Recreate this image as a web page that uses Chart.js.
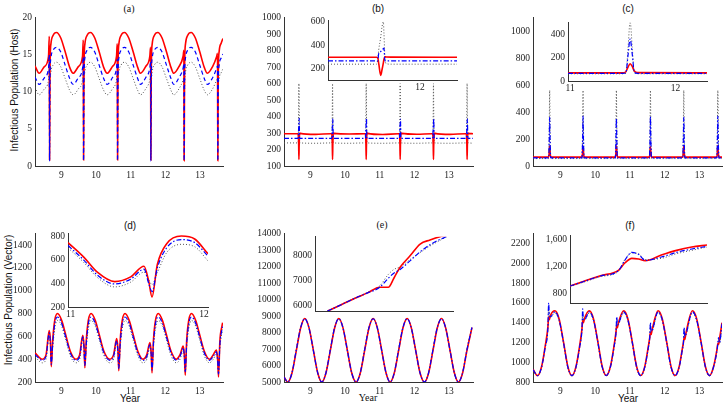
<!DOCTYPE html>
<html>
<head>
<meta charset="utf-8">
<script src="https://cdn.jsdelivr.net/npm/chart.js@4.4.1/dist/chart.umd.min.js"></script>
<style>
body{margin:0;background:#fff;}
#wrap{position:relative;width:727px;height:406px;overflow:hidden;background:#fff;}
canvas{position:absolute;}
.t{position:absolute;font-size:10px;color:#111;white-space:nowrap;transform:translate(-50%,-50%);}
.sans{font-family:"Liberation Sans",Arial,sans-serif;}
.serif{font-family:"Liberation Serif","Times New Roman",serif;}
.rot{transform:translate(-50%,-50%) rotate(-90deg);}
</style>
</head>
<body>
<div id="wrap">
  <div class="t serif" style="left:129px;top:8px">(a)</div>
  <div class="t sans" style="left:378px;top:8px">(b)</div>
  <div class="t sans" style="left:628px;top:8px">(c)</div>
  <div class="t sans" style="left:130px;top:225px">(d)</div>
  <div class="t serif" style="left:382px;top:224px">(e)</div>
  <div class="t sans" style="left:630px;top:225px">(f)</div>
  <div class="t sans rot" style="left:14px;top:90px">Infectious Population (Host)</div>
  <div class="t sans rot" style="left:8px;top:300px">Infectious Population (Vector)</div>
  <div class="t sans" style="left:130px;top:398px">Year</div>
  <div class="t serif" style="left:368px;top:397px">Year</div>
  <div class="t sans" style="left:628px;top:398px">Year</div>
</div>
<script>
// tick labels
const yearTicks = [9, 10, 11, 12, 13];
const aYTicks = [0, 5, 10, 15, 20];
const bYTicks = [100, 200, 300, 400, 500, 600, 700, 800, 900, 1000];
const cYTicks = [0, 200, 400, 600, 800, 1000];
const dYTicks = [200, 400, 600, 800, 1000, 1200, 1400];
const eYTicks = [5000, 6000, 7000, 8000, 9000, 10000, 11000, 12000, 13000, 14000];
const fYTicks = [800, 1000, 1200, 1400, 1600, 1800, 2000, 2200];
const bInXTicks = [12], bInYTicks = [200, 400, 600];
const cInXTicks = [11, 12], cInYTicks = [0, 200, 400];
const dInXTicks = [11, 12], dInYTicks = [200, 400, 600, 800];
const eInYTicks = [6000, 7000, 8000];
const fInYTicks = [800, 1200, 1600];

// (a) host
const aX = [8.24,
 8.36,8.51,8.63,8.652,8.66,8.672,8.70,8.76,8.86,8.98,9.11,9.24,
 9.34,9.49,9.61,9.632,9.64,9.652,9.68,9.74,9.84,9.96,10.09,10.22,
 10.32,10.47,10.59,10.612,10.62,10.632,10.66,10.72,10.82,10.94,11.07,11.20,
 11.28,11.43,11.55,11.572,11.58,11.592,11.62,11.68,11.78,11.90,12.03,12.16,
 12.24,12.39,12.51,12.532,12.54,12.552,12.58,12.64,12.74,12.86,12.99,13.12,
 13.21,13.36,13.48,13.502,13.51,13.522,13.55,13.61,13.66];
const aRed = [13.5,
 12.5,13.4,14.8,17.5,0.8,13.0,16.5,17.6,18.0,17.3,15.4,13.3,
 12.5,13.4,14.8,17.0,0.8,13.0,16.5,17.6,18.0,17.3,15.4,13.3,
 12.5,13.4,14.8,16.5,0.8,13.0,16.5,17.6,18.0,17.3,15.4,13.3,
 12.5,13.4,14.8,16.0,0.8,13.0,16.5,17.6,18.0,17.3,15.4,13.3,
 12.5,13.4,14.8,15.6,0.7,13.0,16.5,17.6,18.0,17.3,15.4,13.3,
 12.5,13.4,14.8,15.2,0.7,12.0,15.5,16.6,17.2];
const aBlue = [12.0,
 11.0,11.9,13.2,15.0,0.7,11.5,14.6,15.6,16.0,15.4,13.6,11.8,
 11.0,11.9,13.2,14.7,0.7,11.5,14.6,15.6,16.0,15.4,13.6,11.8,
 11.0,11.9,13.2,14.4,0.7,11.5,14.6,15.6,16.0,15.4,13.6,11.8,
 11.0,11.9,13.2,14.1,0.7,11.5,14.6,15.6,16.0,15.4,13.6,11.8,
 11.0,11.9,13.2,13.8,0.7,11.5,14.6,15.6,16.0,15.4,13.6,11.8,
 11.0,11.9,13.2,13.5,0.7,10.5,13.6,14.6,15.1];
const aGray = [10.6,
 9.6,10.4,11.6,13.0,0.8,10.0,12.7,13.6,14.0,13.4,11.8,10.2,
 9.6,10.4,11.6,12.8,0.8,10.0,12.7,13.6,14.0,13.4,11.8,10.2,
 9.6,10.4,11.6,12.5,0.8,10.0,12.7,13.6,14.0,13.4,11.8,10.2,
 9.6,10.4,11.6,12.3,0.8,10.0,12.7,13.6,14.0,13.4,11.8,10.2,
 9.6,10.4,11.6,12.0,0.8,10.0,12.7,13.6,14.0,13.4,11.8,10.2,
 9.6,10.4,11.6,11.8,0.8,9.2,11.8,12.6,13.1];

// (b)
const bX = [8.24,
 8.63,8.65,8.662,8.67,8.678,8.69,8.71,9.15,
 9.60,9.62,9.632,9.64,9.648,9.66,9.68,10.12,
 10.57,10.59,10.602,10.61,10.618,10.63,10.65,11.09,
 11.55,11.57,11.582,11.59,11.598,11.61,11.63,12.07,
 12.51,12.53,12.542,12.55,12.558,12.57,12.59,13.03,
 13.48,13.50,13.512,13.52,13.528,13.54,13.56,13.69];
const bRed = [296,
 296,292,240,140,230,300,298,292,
 296,292,240,140,230,300,298,294,
 296,292,240,140,230,300,298,291,
 296,292,240,140,230,300,298,293,
 296,292,240,140,230,300,298,292,
 296,292,240,140,230,300,298,296];
const bBlue = [268,
 268,268,330,360,390,268,268,268,
 268,268,330,360,385,268,268,268,
 268,268,330,360,390,268,268,268,
 268,268,330,360,385,268,268,268,
 268,268,330,360,390,268,268,268,
 268,268,330,360,385,268,268,268];
const bGray = [240,
 240,240,420,600,420,245,240,238,
 240,240,420,600,420,245,240,238,
 240,240,420,600,420,245,240,238,
 240,240,420,600,420,245,240,238,
 240,240,420,600,420,245,240,238,
 240,240,420,600,420,245,240,238];
const bInX = [11.03,11.54,11.555,11.565,11.586,11.60,11.614,11.62,11.63,11.645,11.70,12.39];
const bInRed = [296,296,290,240,140,190,250,280,300,298,297,296];
const bInBlue = [265,265,265,330,345,360,370,375,265,265,265,265];
const bInGray = [236,236,280,360,470,560,600,500,300,240,236,236];

// (c)
const cX = [8.21,
 8.66,8.678,8.69,8.702,8.72,9.17,
 9.62,9.638,9.65,9.662,9.68,10.13,
 10.58,10.598,10.61,10.622,10.64,11.09,
 11.56,11.578,11.59,11.602,11.62,12.07,
 12.52,12.538,12.55,12.562,12.58,13.03,
 13.50,13.518,13.53,13.542,13.56,13.65];
const cRed = [66,
 66,100,148,100,66,66,
 66,100,145,100,66,66,
 66,100,148,100,66,66,
 66,100,142,100,66,66,
 66,100,148,100,66,66,
 66,100,150,100,66,66];
const cBlue = [60,
 60,200,360,200,60,60,
 60,200,370,200,60,60,
 60,200,355,200,60,60,
 60,200,365,200,60,60,
 60,200,360,200,60,60,
 60,200,370,200,60,60];
const cGray = [55,
 55,300,560,300,55,55,
 55,300,560,300,55,55,
 55,300,560,300,55,55,
 55,300,560,300,55,55,
 55,300,560,300,55,55,
 55,300,560,300,55,55];
const cInX = [10.98,11.50,11.53,11.55,11.57,11.59,11.61,11.64,12.30];
const cInRed = [70,70,80,120,148,125,85,72,70];
const cInBlue = [65,65,70,220,360,230,75,65,65];
const cInGray = [62,62,66,280,510,290,70,62,62];

// (d) vector
const dX = [8.24,
 8.45,8.56,8.65,8.685,8.71,8.75,8.81,8.89,9.01,9.13,9.26,
 9.42,9.53,9.62,9.655,9.68,9.72,9.78,9.86,9.98,10.10,10.23,
 10.40,10.51,10.60,10.635,10.66,10.70,10.76,10.84,10.96,11.08,11.21,
 11.36,11.47,11.56,11.595,11.62,11.66,11.72,11.80,11.92,12.04,12.17,
 12.32,12.43,12.52,12.555,12.58,12.62,12.68,12.76,12.88,13.00,13.13,
 13.28,13.39,13.48,13.515,13.54,13.58,13.64,13.66];
const dRed = [455,
 400,440,650,560,335,560,740,800,740,610,470,
 400,440,610,520,325,560,740,800,740,610,470,
 400,440,580,490,300,560,740,800,740,610,470,
 400,440,545,460,280,560,740,800,740,610,470,
 400,440,515,430,260,560,740,800,740,610,470,
 400,440,480,400,245,560,690,720];
const dBlue = [440,
 390,425,630,540,355,530,710,770,715,590,455,
 390,425,595,505,345,530,710,770,715,590,455,
 390,425,560,475,320,530,710,770,715,590,455,
 390,425,525,445,305,530,710,770,715,590,455,
 390,425,500,420,290,530,710,770,715,590,455,
 390,425,465,390,270,530,660,690];
const dGray = [420,
 368,400,600,520,380,500,665,740,690,565,430,
 368,400,565,490,365,500,665,740,690,565,430,
 368,400,530,460,345,500,665,740,690,565,430,
 368,400,500,430,330,500,665,740,690,565,430,
 368,400,475,405,315,500,665,740,690,565,430,
 368,400,445,375,295,500,630,660];
const dInX = [10.98,11.10,11.20,11.33,11.45,11.55,11.585,11.61,11.65,11.72,11.83,11.93,12.03];
const dInRed = [745,620,495,415,455,545,420,285,560,735,800,775,650];
const dInBlue = [720,595,470,395,435,520,400,330,530,700,770,745,630];
const dInGray = [700,575,450,370,410,495,430,390,490,660,730,710,590];

// (e)
const eX = [8.24,
 8.35,8.47,8.595,8.72,8.84,8.96,9.085,9.21,
 9.33,9.45,9.575,9.70,9.82,9.94,10.065,10.19,
 10.32,10.44,10.565,10.69,10.81,10.93,11.055,11.18,
 11.30,11.42,11.545,11.67,11.79,11.91,12.035,12.16,
 12.29,12.41,12.535,12.66,12.78,12.90,13.025,13.15,
 13.27,13.39,13.515,13.66];
const eRed = [5300,
 5000,5550,6900,8280,8850,8300,6950,5580,
 5000,5550,6900,8280,8850,8300,6950,5580,
 5000,5550,6900,8280,8850,8300,6950,5580,
 5000,5550,6900,8280,8850,8300,6950,5580,
 5000,5550,6900,8280,8850,8300,6950,5580,
 5000,5550,6900,8300];
const eBlue = [5300,
 5000,5560,6950,8300,8840,8290,6940,5570,
 5000,5560,6950,8300,8840,8290,6940,5570,
 5000,5560,6950,8300,8840,8290,6940,5570,
 5000,5560,6950,8300,8840,8290,6940,5570,
 5000,5560,6950,8300,8840,8290,6940,5570,
 5000,5560,6950,8320];
const eGray = [5320,
 5010,5570,7000,8320,8830,8280,6920,5560,
 5010,5570,7000,8320,8830,8280,6920,5560,
 5010,5570,7000,8320,8830,8280,6920,5560,
 5010,5570,7000,8320,8830,8280,6920,5560,
 5010,5570,7000,8320,8830,8280,6920,5560,
 5010,5570,7000,8340];
const eInX = [11.418,11.46,11.50,11.54,11.577,11.603,11.62,11.639,11.67,11.70,11.73,11.76,11.78];
const eInRed = [5800,6050,6300,6520,6740,6740,7100,7540,8000,8460,8620,8750,8800];
const eInBlue = [5800,6050,6300,6520,6740,7100,7300,7450,7800,8150,8430,8640,8750];
const eInGray = [5800,6060,6310,6540,6800,7250,7450,7550,7850,8120,8380,8600,8740];

// (f)
const fX = [8.21,
 8.34,8.46,8.56,8.64,8.66,8.68,8.71,8.84,8.96,9.09,9.21,
 9.33,9.45,9.55,9.62,9.64,9.66,9.69,9.83,9.95,10.08,10.20,
 10.32,10.44,10.54,10.60,10.62,10.64,10.67,10.82,10.94,11.07,11.19,
 11.31,11.43,11.53,11.57,11.59,11.61,11.64,11.81,11.93,12.06,12.18,
 12.30,12.42,12.51,12.54,12.56,12.58,12.61,12.80,12.92,13.05,13.17,
 13.29,13.41,13.51,13.53,13.55,13.58,13.65];
const fRed = [930,
 865,960,1160,1360,1460,1430,1470,1520,1440,1200,960,
 865,960,1160,1340,1420,1400,1440,1520,1440,1200,960,
 865,960,1160,1310,1370,1350,1400,1520,1440,1200,960,
 865,960,1160,1250,1300,1280,1330,1520,1440,1200,960,
 865,960,1140,1200,1250,1230,1290,1520,1440,1200,960,
 865,960,1140,1190,1180,1240,1400];
const fBlue = [925,
 865,955,1150,1360,1600,1480,1460,1510,1430,1195,955,
 865,955,1150,1340,1540,1430,1430,1510,1430,1195,955,
 865,955,1150,1310,1460,1380,1390,1510,1430,1195,955,
 865,955,1150,1250,1400,1310,1320,1510,1430,1195,955,
 865,955,1130,1200,1350,1260,1280,1510,1430,1195,955,
 865,955,1130,1190,1250,1200,1390];
const fGray = [920,
 860,950,1145,1350,1570,1470,1450,1500,1420,1190,950,
 860,950,1145,1330,1510,1420,1420,1500,1420,1190,950,
 860,950,1145,1300,1440,1370,1380,1500,1420,1190,950,
 860,950,1145,1240,1380,1300,1310,1500,1420,1190,950,
 860,950,1125,1190,1330,1250,1270,1500,1420,1190,950,
 860,950,1125,1180,1240,1190,1380];
const fInX = [11.40,11.45,11.50,11.559,11.58,11.603,11.625,11.647,11.70,11.75,11.80,11.85];
const fInRed = [905,985,1060,1140,1250,1320,1310,1285,1370,1440,1490,1520];
const fInBlue = [905,980,1055,1135,1290,1410,1380,1290,1340,1410,1460,1500];
const fInGray = [895,970,1045,1125,1300,1400,1390,1300,1320,1390,1440,1490];

const RED = '#ff0000', BLUE = '#0000ff', GRAY = '#555555';
const SERIF = '"Liberation Serif", "Times New Roman", serif';
const wrap = document.getElementById('wrap');
const PT = 8, PR = 8;

function trio(x, r, b, g, dash) {
  return [
    {x: x, y: b, c: BLUE, w: 1.2, d: dash || [5, 2, 1.5, 2]},
    {x: x, y: r, c: RED, w: 1.6, d: []},
    {x: x, y: g, c: GRAY, w: 1, d: [1, 2]}
  ];
}

function panel(box, xr, yr, xt, yt, sets, o) {
  o = o || {};
  const yw = o.yw || 36, xh = o.xh || 18;
  const cv = document.createElement('canvas');
  const w = box[2] - box[0] + yw + PR, h = box[3] - box[1] + PT + xh;
  cv.width = w; cv.height = h;
  cv.style.left = (box[0] - yw) + 'px';
  cv.style.top = (box[1] - PT) + 'px';
  cv.style.width = w + 'px';
  cv.style.height = h + 'px';
  wrap.appendChild(cv);
  const tickFont = {family: SERIF, size: o.fs || 9.5};
  const grid = {display: false, drawTicks: false, tickLength: 0};
  new Chart(cv, {
    type: 'line',
    data: {
      datasets: sets.map(s => ({
        data: s.x.map((x, i) => ({x: x, y: s.y[i]})),
        borderColor: s.c, borderWidth: s.w, borderDash: s.d,
        pointRadius: 0, fill: false, cubicInterpolationMode: 'monotone'
      }))
    },
    options: {
      responsive: false, animation: false,
      layout: {padding: {top: PT, right: PR, left: 0, bottom: 0}},
      plugins: {legend: {display: false}, tooltip: {enabled: false}},
      scales: {
        x: {
          type: 'linear', min: xr[0], max: xr[1],
          grid: grid, border: {display: true, color: '#333', width: 1},
          ticks: {display: xt.length > 0, font: tickFont, color: '#222', padding: o.xp || 4,
                  maxRotation: 0, autoSkip: false, callback: v => String(v)},
          afterBuildTicks: s => { s.ticks = xt.map(v => ({value: v})); },
          afterFit: s => { s.height = xh; }
        },
        y: {
          type: 'linear', min: yr[0], max: yr[1],
          grid: grid, border: {display: true, color: '#333', width: 1},
          ticks: {font: tickFont, color: '#222', padding: 3, autoSkip: false,
                  callback: o.fmt || (v => String(v))},
          afterBuildTicks: s => { s.ticks = yt.map(v => ({value: v})); },
          afterFit: s => { s.width = yw; }
        }
      }
    }
  });
}

const inset = {yw: 30, xh: 12, xp: 2};

panel([35, 17, 223, 166], [8.24, 13.66], [0, 20], yearTicks, aYTicks, trio(aX, aRed, aBlue, aGray, [4, 3]));
panel([284, 17, 473, 166], [8.24, 13.69], [100, 1000], yearTicks, bYTicks, trio(bX, bRed, bBlue, bGray));
panel([533, 17, 722, 166], [8.21, 13.65], [0, 1100], yearTicks, cYTicks, trio(cX, cRed, cBlue, cGray));
panel([35, 233, 223, 382], [8.24, 13.67], [200, 1500], yearTicks, dYTicks, trio(dX, dRed, dBlue, dGray));
panel([284, 233, 473, 382], [8.24, 13.69], [5000, 14000], yearTicks, eYTicks, trio(eX, eRed, eBlue, eGray));
panel([533, 233, 722, 382], [8.21, 13.65], [800, 2300], yearTicks, fYTicks, trio(fX, fRed, fBlue, fGray));

panel([328, 20, 457, 80], [11.03, 12.39], [100, 610], bInXTicks, bInYTicks, trio(bInX, bInRed, bInBlue, bInGray), inset);
panel([568, 22, 707, 81], [10.98, 12.30], [0, 500], cInXTicks, cInYTicks, trio(cInX, cInRed, cInBlue, cInGray), inset);
panel([68, 233, 208, 307], [10.98, 12.03], [200, 820], dInXTicks, dInYTicks, trio(dInX, dInRed, dInBlue, dInGray), inset);
panel([315, 236, 453, 311], [11.38, 11.80], [5800, 8750], [], eInYTicks, trio(eInX, eInRed, eInBlue, eInGray), inset);
panel([570, 235, 707, 303], [11.40, 11.85], [650, 1660], [], fInYTicks, trio(fInX, fInRed, fInBlue, fInGray),
      {yw: 30, xh: 12, xp: 2, fmt: v => v.toLocaleString('en-US')});
</script>
</body>
</html>
